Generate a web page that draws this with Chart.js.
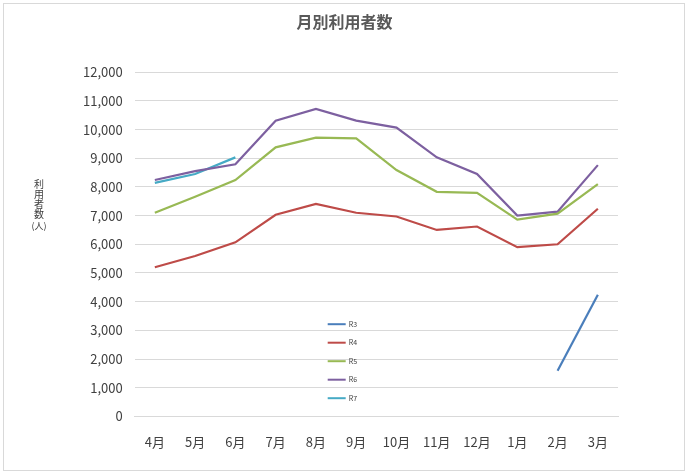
<!DOCTYPE html>
<html>
<head>
    <title>月別利用者数</title>
    <script src="https://cdn.jsdelivr.net/npm/chart.js"></script>
    <style>
        body { margin: 0; background: #fff; }
        .chart-container { position: absolute; left: 3px; top: 3px; width: 682px; height: 468px; border: 1px solid #d9d9d9; box-sizing: border-box; }
    </style>
</head>
<body>
    <div class="chart-container">
        <canvas id="usage-chart"></canvas>
    </div>
    <script>
        const months = ['4月', '5月', '6月', '7月', '8月', '9月', '10月', '11月', '12月', '1月', '2月', '3月'];
        const r3 = [null, null, null, null, null, null, null, null, null, null, 1590, 4240];
        const r4 = [5200, 5590, 6070, 7030, 7410, 7100, 6970, 6500, 6620, 5900, 6000, 7240];
        const r5 = [7100, 7660, 8240, 9380, 9720, 9690, 8590, 7830, 7790, 6860, 7070, 8100];
        const r6 = [8240, 8550, 8790, 10310, 10720, 10310, 10070, 9030, 8450, 7000, 7140, 8760];
        const r7 = [8140, 8450, 9030, null, null, null, null, null, null, null, null, null];

        const font = "'Noto Sans CJK JP', 'Noto Sans', sans-serif";

        // small legend inside the plot area + stacked y title
        const extras = {
            id: 'extras',
            afterDraw(chart) {
                const ctx = chart.ctx;
                const area = chart.chartArea;
                ctx.save();
                ctx.font = '7px ' + font;
                ctx.textBaseline = 'middle';
                chart.data.datasets.forEach((ds, i) => {
                    const y = area.top + 252 + i * 18.5;
                    const x = area.left + 193;
                    ctx.strokeStyle = ds.borderColor;
                    ctx.lineWidth = 2;
                    ctx.beginPath();
                    ctx.moveTo(x, y);
                    ctx.lineTo(x + 18, y);
                    ctx.stroke();
                    ctx.fillStyle = '#404040';
                    ctx.fillText(ds.label, x + 21, y);
                });
                ctx.font = '10px ' + font;
                ctx.fillStyle = '#404040';
                ctx.textAlign = 'center';
                ['利', '用', '者', '数'].forEach((c, i) => {
                    ctx.fillText(c, 35, 180 + i * 10);
                });
                ctx.font = '9px ' + font;
                ctx.fillText('(人)', 35, 222);
                ctx.restore();
            }
        };

        new Chart(document.getElementById('usage-chart').getContext('2d'), {
            type: 'line',
            data: {
                labels: months,
                datasets: [
                    { label: 'R3', data: r3, borderColor: '#4a7ebb' },
                    { label: 'R4', data: r4, borderColor: '#be4b48' },
                    { label: 'R5', data: r5, borderColor: '#98b954' },
                    { label: 'R6', data: r6, borderColor: '#7d60a0' },
                    { label: 'R7', data: r7, borderColor: '#46aac5' }
                ]
            },
            options: {
                responsive: true,
                maintainAspectRatio: false,
                animation: false,
                spanGaps: false,
                elements: { point: { radius: 0 }, line: { borderWidth: 2.2, tension: 0 } },
                layout: { padding: { left: 67, right: 66, top: 0, bottom: 10 } },
                plugins: {
                    legend: { display: false },
                    tooltip: { enabled: false },
                    title: {
                        display: true,
                        text: '月別利用者数',
                        color: '#595959',
                        font: { family: font, size: 16, weight: 'bold' },
                        padding: { top: 8, bottom: 41 }
                    }
                },
                scales: {
                    x: {
                        offset: true,
                        grid: { display: false },
                        border: { color: '#d9d9d9' },
                        ticks: { color: '#404040', font: { family: font, size: 13 }, padding: 10 }
                    },
                    y: {
                        min: 0,
                        max: 12000,
                        ticks: {
                            stepSize: 1000,
                            color: '#404040',
                            padding: 12,
                            font: { family: font, size: 13 },
                            callback: v => v.toLocaleString('en-US')
                        },
                        grid: { color: '#d9d9d9', drawTicks: false },
                        border: { display: false }
                    }
                }
            },
            plugins: [extras]
        });
    </script>
</body>
</html>
